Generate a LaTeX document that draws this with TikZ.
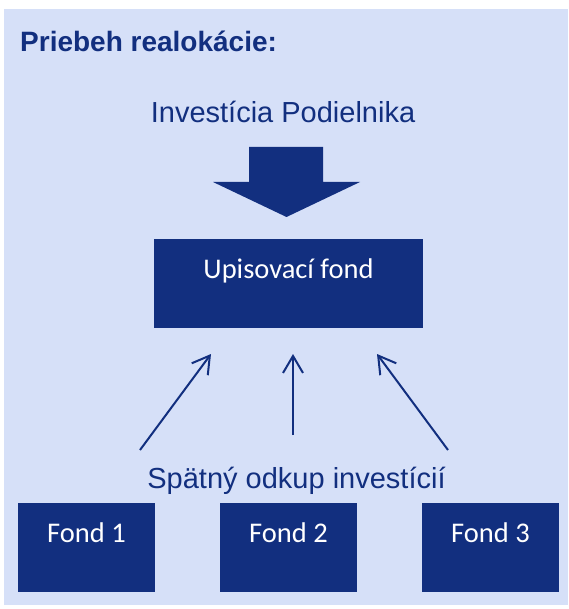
\documentclass[tikz,border=0pt]{standalone}
\usepackage{fontspec}
\setmainfont{Liberation Sans}
\newfontfamily\boxfont{Carlito}
\usetikzlibrary{arrows.meta}
\definecolor{navy}{RGB}{18,47,127}
\definecolor{bgblue}{RGB}{214,224,248}

\begin{document}
\begin{tikzpicture}[x=1pt,y=1pt]
\tikzstyle{every node}+=[inner sep=0pt]
\tikzstyle{fondbox}=[fill=navy, text=white, minimum width=137pt, text height=39pt, text depth=50pt, font=\boxfont\fontsize{28.5}{30}\selectfont]
\tikzstyle{label}=[text=navy, font=\fontsize{29}{33}\selectfont, anchor=base]
\tikzstyle{thinarrow}=[navy, line width=2pt, -{Straight Barb[length=17pt,width=20pt]}]
\useasboundingbox (0,0) rectangle (568,-609);
\fill [bgblue] (4,-9) rectangle (568,-605);
\draw (20,-52) node (title) [anchor=base west, text=navy, font=\bfseries\fontsize{28}{32}\selectfont] {Priebeh realokácie:};
\draw (283,-123) node (invest) [label] {Investícia Podielnika};
\fill [navy] (249,-147) -- (323,-147) -- (323,-182) -- (360,-182) -- (286.5,-217) -- (213,-182) -- (249,-182) -- cycle;
\draw (288.5,-283.5) node (upis) [fondbox, minimum width=269pt] {Upisovací fond};
\coordinate (l1) at (140,-450);
\coordinate (l2) at (211,-354);
\coordinate (m1) at (293,-435);
\coordinate (m2) at (293,-354);
\coordinate (r1) at (448,-450);
\coordinate (r2) at (377,-354);
\draw [thinarrow] (l1) -- (l2);
\draw [thinarrow] (m1) -- (m2);
\draw [thinarrow] (r1) -- (r2);
\draw (296.5,-488) node (spat) [label] {Spätný odkup investícií};
\draw (86.5,-547.5) node (fond1) [fondbox] {Fond 1};
\draw (288.5,-547.5) node (fond2) [fondbox] {Fond 2};
\draw (490.5,-547.5) node (fond3) [fondbox] {Fond 3};
\end{tikzpicture}
\end{document}
